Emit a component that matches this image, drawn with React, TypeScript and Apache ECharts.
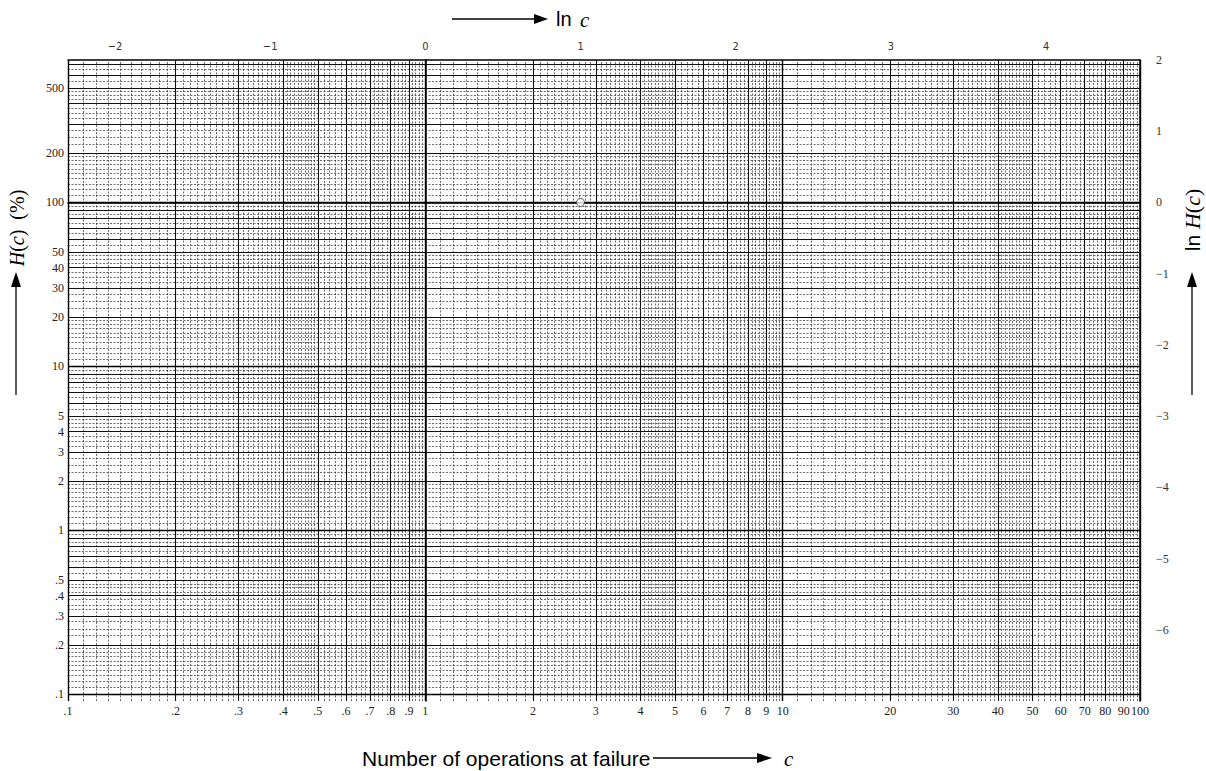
import React, { useEffect, useRef } from 'react';
import * as echarts from 'echarts';

// Axis tick labels
const cTickValues = [0.1, 0.2, 0.3, 0.4, 0.5, 0.6, 0.7, 0.8, 0.9, 1, 2, 3, 4, 5, 6, 7, 8, 9, 10, 20, 30, 40, 50, 60, 70, 80, 90, 100];
const hTickValues = [0.1, 0.2, 0.3, 0.4, 0.5, 1, 2, 3, 4, 5, 10, 20, 30, 40, 50, 100, 200, 500];
const lnCTicks = [-2, -1, 0, 1, 2, 3, 4];
const lnHTicks = [-6, -5, -4, -3, -2, -1, 0, 1, 2];

// Axis ranges
const cMin = 0.1;
const cMax = 100;
const lnHMin = -7;
const lnHMax = 2;

// Decades of the log paper
const cDecades = [0.1, 1, 10];
const hDecades = [0.01, 0.1, 1, 10, 100];

// Reference point printed on the paper (c = e, H = 100 %)
const referencePoint = [[2.718, 100]];

const hMin = 100 * Math.exp(lnHMin);
const hMax = 100 * Math.exp(lnHMax);

function gridValues(decades: number[], minorSteps: [number, number, number][], lo: number, hi: number) {
  const minor: number[] = [];
  const ints: number[] = [];
  const dec: number[] = [];
  decades.forEach((d) => {
    dec.push(d);
    for (let k = 2; k <= 9; k++) ints.push(+(d * k).toPrecision(6));
    minorSteps.forEach(([a, b, s]) => {
      for (let k = a; k < b; k += s) {
        if (k % 100 === 0) continue;
        minor.push(+(d * k / 100).toPrecision(6));
      }
    });
  });
  dec.push(decades[decades.length - 1] * 10);
  const f = (arr: number[]) => arr.filter((v) => v >= lo * 0.9999 && v <= hi * 1.0001);
  return { minor: f(minor), ints: f(ints), dec: f(dec) };
}

const vGrid = gridValues(cDecades, [[110, 500, 10], [500, 1000, 20]], cMin, cMax);
const hGrid = gridValues(hDecades, [[110, 200, 10], [200, 500, 25], [500, 1000, 50]], hMin, hMax);

const fmtSmall = (v: number) => (v < 1 ? '.' + Math.round(v * 10) : String(Math.round(v)));
const fmtMinus = (v: number) => (v < 0 ? '\u2212' + Math.abs(v) : String(v));

function markSeries(name: string, axis: 'xAxis' | 'yAxis', vals: number[], lineStyle: any) {
  return {
    type: 'line',
    name,
    xAxisIndex: 0,
    yAxisIndex: 0,
    data: [],
    silent: true,
    markLine: {
      silent: true,
      symbol: ['none', 'none'],
      label: { show: false },
      emphasis: { disabled: true },
      lineStyle,
      data: vals.map((v) => ({ [axis]: v })),
    },
  };
}

export default function App() {
  const ref = useRef<HTMLDivElement>(null);
  useEffect(() => {
    if (!ref.current) return;
    const chart = echarts.init(ref.current, null, { renderer: 'svg' });
    const serif = 'Liberation Serif';
    const minorStyle = { color: '#333', width: 0.8, type: [2, 1.5], opacity: 0.9 };
    const intStyle = { color: '#111', width: 1.1, type: 'solid' };
    const decStyle = { color: '#000', width: 1.4, type: 'solid' };
    chart.setOption({
      animation: false,
      backgroundColor: '#fff',
      grid: { left: 68, right: 66, top: 60, bottom: 70, show: false },
      xAxis: [
        {
          type: 'log',
          logBase: 10,
          min: cMin,
          max: cMax,
          position: 'bottom',
          axisLine: { show: true, lineStyle: { color: '#000', width: 1.5 } },
          axisTick: { show: true, customValues: cTickValues, length: 3, lineStyle: { color: '#000' } },
          axisLabel: {
            customValues: cTickValues,
            formatter: (v: number) => fmtSmall(v),
            fontFamily: serif,
            fontSize: 12,
            color: '#222',
            margin: 4,
          },
          splitLine: { show: false },
        },
        {
          type: 'value',
          min: Math.log(cMin),
          max: Math.log(cMax),
          position: 'top',
          axisLine: { show: true, onZero: false, lineStyle: { color: '#000', width: 1.5 } },
          axisTick: { show: false },
          axisLabel: {
            customValues: lnCTicks,
            formatter: (v: number) => fmtMinus(v),
            fontFamily: 'DejaVu Sans Condensed',
            fontSize: 11,
            color: '#333',
            margin: 8,
          },
          splitLine: { show: false },
        },
      ],
      yAxis: [
        {
          type: 'log',
          logBase: 10,
          min: hMin,
          max: hMax,
          position: 'left',
          axisLine: { show: true, lineStyle: { color: '#000', width: 1.5 } },
          axisTick: { show: true, customValues: hTickValues, length: 3, lineStyle: { color: '#000' } },
          axisLabel: {
            customValues: hTickValues,
            formatter: (v: number) => fmtSmall(v),
            fontFamily: serif,
            fontSize: 12,
            color: '#222',
            margin: 4,
          },
          splitLine: { show: false },
        },
        {
          type: 'value',
          min: lnHMin,
          max: lnHMax,
          interval: 1,
          position: 'right',
          axisLine: { show: true, onZero: false, lineStyle: { color: '#000', width: 1.5 } },
          axisTick: { show: false },
          axisLabel: {
            customValues: lnHTicks,
            formatter: (v: number) => fmtMinus(v),
            fontFamily: serif,
            fontSize: 12,
            color: '#333',
            margin: 16,
            padding: [8, 0, 0, 0],
          },
          splitLine: { show: false },
        },
      ],
      series: [
        markSeries('vMinor', 'xAxis', vGrid.minor, minorStyle),
        markSeries('hMinor', 'yAxis', hGrid.minor, minorStyle),
        markSeries('vInt', 'xAxis', vGrid.ints, intStyle),
        markSeries('hInt', 'yAxis', hGrid.ints, intStyle),
        markSeries('vDec', 'xAxis', vGrid.dec, decStyle),
        markSeries('hDec', 'yAxis', hGrid.dec, decStyle),
        {
          type: 'scatter',
          name: 'ref',
          xAxisIndex: 0,
          yAxisIndex: 0,
          data: referencePoint,
          symbol: 'circle',
          symbolSize: 8,
          itemStyle: { color: '#fff', borderColor: '#333', borderWidth: 1 },
          silent: true,
          z: 5,
        },
      ],
      graphic: [
        // top title: ln c
        { type: 'line', shape: { x1: 452, y1: 19, x2: 538, y2: 19 }, style: { stroke: '#000', lineWidth: 1.3 } },
        { type: 'polygon', shape: { points: [[534, 14], [548, 19], [534, 24]] }, style: { fill: '#000' } },
        {
          type: 'text',
          x: 556,
          y: 19,
          style: {
            text: 'ln',
            fontFamily: 'Liberation Sans',
            fontSize: 20,
            fill: '#000',
            verticalAlign: 'middle',
          },
        },
        {
          type: 'text',
          x: 580,
          y: 20,
          style: { text: 'c', fontFamily: serif, fontStyle: 'italic', fontSize: 21, fill: '#000', verticalAlign: 'middle' },
        },
        // bottom title
        {
          type: 'text',
          x: 362,
          y: 758,
          style: {
            text: 'Number of operations at failure',
            fontFamily: 'Liberation Sans',
            fontSize: 21,
            fill: '#000',
            verticalAlign: 'middle',
          },
        },
        { type: 'line', shape: { x1: 653, y1: 758, x2: 760, y2: 758 }, style: { stroke: '#000', lineWidth: 1.3 } },
        { type: 'polygon', shape: { points: [[757, 753], [772, 758], [757, 763]] }, style: { fill: '#000' } },
        {
          type: 'text',
          x: 784,
          y: 759,
          style: { text: 'c', fontFamily: serif, fontStyle: 'italic', fontSize: 21, fill: '#000', verticalAlign: 'middle' },
        },
        // left title
        {
          type: 'text',
          x: 17,
          y: 228,
          rotation: Math.PI / 2,
          style: {
            text: '{a|H}{b|(}{a|c}{b|)}   {b|(%)}',
            align: 'center',
            verticalAlign: 'middle',
            rich: {
              a: { fontFamily: serif, fontStyle: 'italic', fontSize: 20, fill: '#000' },
              b: { fontFamily: serif, fontSize: 20, fill: '#000' },
            },
          },
        },
        { type: 'line', shape: { x1: 16, y1: 395, x2: 16, y2: 284 }, style: { stroke: '#000', lineWidth: 1.3 } },
        { type: 'polygon', shape: { points: [[11, 287], [16, 272], [21, 287]] }, style: { fill: '#000' } },
        // right title
        {
          type: 'text',
          x: 1192,
          y: 220,
          rotation: Math.PI / 2,
          style: {
            text: '{a|ln }{b|H}{c|(}{b|c}{c|)}',
            align: 'center',
            verticalAlign: 'middle',
            rich: {
              a: { fontFamily: 'Liberation Sans', fontSize: 21, fill: '#000' },
              b: { fontFamily: serif, fontStyle: 'italic', fontSize: 22, fill: '#000' },
              c: { fontFamily: serif, fontSize: 22, fill: '#000' },
            },
          },
        },
        { type: 'line', shape: { x1: 1192, y1: 395, x2: 1192, y2: 284 }, style: { stroke: '#000', lineWidth: 1.3 } },
        { type: 'polygon', shape: { points: [[1187, 287], [1192, 272], [1197, 287]] }, style: { fill: '#000' } },
      ],
    });
    return () => chart.dispose();
  }, []);
  return <div ref={ref} style={{ position: 'fixed', left: 0, top: 0, width: 1206, height: 771 }} />;
}
